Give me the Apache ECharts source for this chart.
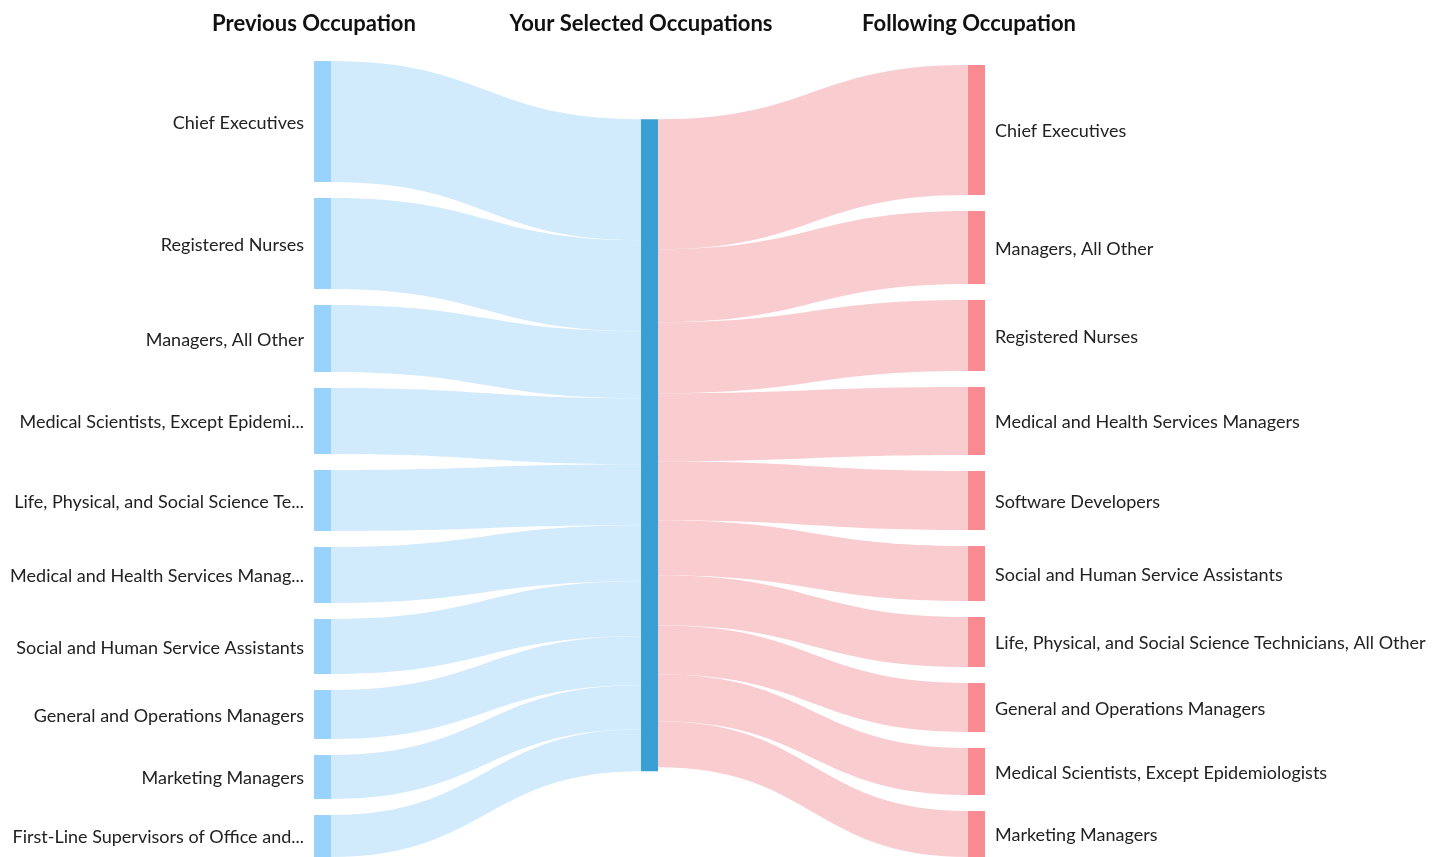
<!DOCTYPE html>
<html>
<head>
<meta charset="utf-8">
<script src="https://cdn.jsdelivr.net/npm/echarts@6/dist/echarts.min.js"></script>
<style>
html,body{margin:0;padding:0;background:#fff;}
#chart{width:1442px;height:857px;}
</style>
</head>
<body>
<div id="chart"></div>
<script>
const columnTitles = ['Previous Occupation', 'Your Selected Occupations', 'Following Occupation'];
const selectedNode = 'Your Selected Occupations';

const prevOccupations = [
  'Chief Executives',
  'Registered Nurses',
  'Managers, All Other',
  'Medical Scientists, Except Epidemiologists',
  'Life, Physical, and Social Science Technicians, All Other',
  'Medical and Health Services Managers',
  'Social and Human Service Assistants',
  'General and Operations Managers',
  'Marketing Managers',
  'First-Line Supervisors of Office and Administrative Support Workers'
];
const prevLabels = [
  'Chief Executives',
  'Registered Nurses',
  'Managers, All Other',
  'Medical Scientists, Except Epidemi...',
  'Life, Physical, and Social Science Te...',
  'Medical and Health Services Manag...',
  'Social and Human Service Assistants',
  'General and Operations Managers',
  'Marketing Managers',
  'First-Line Supervisors of Office and...'
];
const prevValues = [121, 91, 67, 66, 61, 56, 55, 49, 44, 42];

const nextOccupations = [
  'Chief Executives',
  'Managers, All Other',
  'Registered Nurses',
  'Medical and Health Services Managers',
  'Software Developers',
  'Social and Human Service Assistants',
  'Life, Physical, and Social Science Technicians, All Other',
  'General and Operations Managers',
  'Medical Scientists, Except Epidemiologists',
  'Marketing Managers'
];
const nextValues = [130, 73, 71, 68, 59, 55, 50, 49, 47, 46];

const colors = {
  prevNode: '#99d3fb',
  prevLink: '#d2ebfc',
  center: '#3a9fd4',
  nextNode: '#fa8b90',
  nextLink: '#f9ccd0'
};

const labelFont = { fontFamily: 'Lato', fontSize: 18, color: '#222', offset: [0, 1.5] };

const nodes = [];
const links = [];
prevOccupations.forEach((name, i) => {
  nodes.push({
    name: 'prev|' + name,
    depth: 0,
    itemStyle: { color: colors.prevNode },
    label: Object.assign({ show: true, position: 'left', distance: 10, formatter: prevLabels[i] }, labelFont)
  });
  links.push({ source: 'prev|' + name, target: selectedNode, value: prevValues[i], lineStyle: { color: colors.prevLink } });
});
nodes.push({ name: selectedNode, depth: 1, itemStyle: { color: colors.center }, label: { show: false } });
nextOccupations.forEach((name, i) => {
  nodes.push({
    name: 'next|' + name,
    depth: 2,
    itemStyle: { color: colors.nextNode },
    label: Object.assign({ show: true, position: 'right', distance: 10, formatter: name }, labelFont)
  });
  links.push({ source: selectedNode, target: 'next|' + name, value: nextValues[i], lineStyle: { color: colors.nextLink } });
});

const chart = echarts.init(document.getElementById('chart'));
const titleX = [314, 641, 969];
chart.setOption({
  animation: false,
  graphic: columnTitles.map((t, i) => ({
    type: 'text',
    x: titleX[i],
    y: 24,
    style: {
      text: t,
      fontFamily: 'Lato',
      fontWeight: 'bold',
      fontSize: 22,
      fill: '#111',
      align: 'center',
      verticalAlign: 'middle'
    }
  })),
  series: [{
    type: 'sankey',
    left: 314,
    right: 457,
    top: 61,
    bottom: 0,
    nodeWidth: 17,
    nodeGap: 16,
    nodeAlign: 'justify',
    layoutIterations: 32,
    draggable: false,
    emphasis: { disabled: true },
    data: nodes,
    links: links,
    lineStyle: { curveness: 0.5, opacity: 1 },
    itemStyle: { borderWidth: 0 }
  }]
});
</script>
</body>
</html>
